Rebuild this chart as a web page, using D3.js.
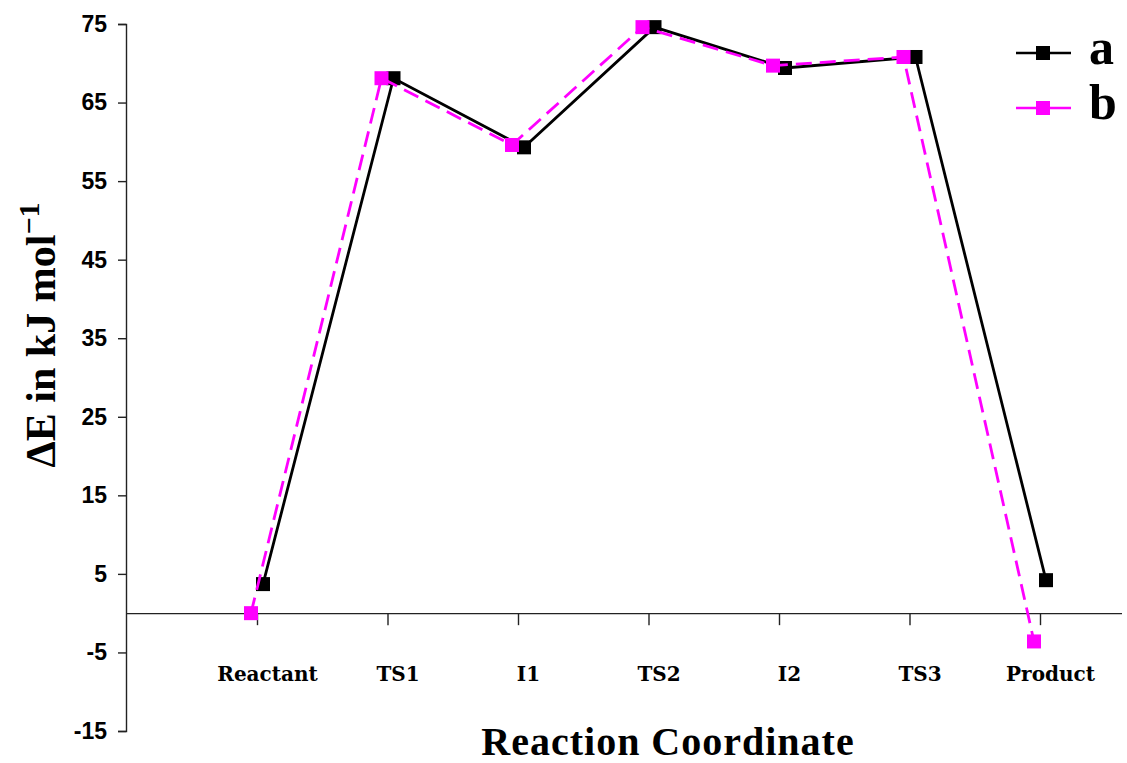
<!DOCTYPE html>
<html>
<head>
<meta charset="utf-8">
<script src="https://cdn.jsdelivr.net/npm/d3@7"></script>
<style>
    body { margin: 0; background: #fff; }
</style>
</head>
<body>
<script>
//chart data
var categories = ["Reactant", "TS1", "I1", "TS2", "I2", "TS3", "Product"];
var seriesA = [3.7, 68.1, 59.3, 74.6, 69.4, 70.8, 4.2];
var seriesB = [0.0, 68.1, 59.6, 74.6, 69.7, 70.8, -3.6];
var seriesNames = ["a", "b"];
var yTicks = [-15, -5, 5, 15, 25, 35, 45, 55, 65, 75];

window.onload = drawChart();

function drawChart(){
    var width = 1127,
        height = 763;

    var svg = d3.select("body")
        .append("svg")
        .attr("width", width)
        .attr("height", height);

    //scales
    var x = d3.scalePoint()
        .domain(categories)
        .range([257, 1040]);

    var y = d3.scaleLinear()
        .domain([-15, 75])
        .range([731, 24]);

    //y axis
    var yAxis = d3.axisLeft(y)
        .tickValues(yTicks)
        .tickSize(8)
        .tickPadding(11)
        .tickFormat(function(d){ return String(d); });

    var gy = svg.append("g")
        .attr("transform", "translate(126,0)")
        .call(yAxis);
    gy.select(".domain").attr("stroke", "#222").attr("stroke-width", 1.4);
    gy.selectAll(".tick line").attr("stroke", "#222").attr("stroke-width", 1.4);
    gy.selectAll(".tick text")
        .style("font-family", "Liberation Sans, Arial, sans-serif")
        .style("font-weight", "bold")
        .style("font-size", "23px")
        .attr("fill", "#000");

    //category axis along zero
    var xAxis = d3.axisBottom(x)
        .tickSize(12)
        .tickSizeOuter(0)
        .tickPadding(42);

    var gx = svg.append("g")
        .attr("transform", "translate(0," + y(0) + ")")
        .call(xAxis);
    gx.select(".domain")
        .attr("d", "M126,0.5H1122")
        .attr("stroke", "#222").attr("stroke-width", 1.4);
    gx.selectAll(".tick line").attr("stroke", "#222").attr("stroke-width", 1.4);
    gx.selectAll(".tick text")
        .attr("dx", 10)
        .style("font-family", "DejaVu Serif, serif")
        .style("font-weight", "bold")
        .style("font-size", "20px")
        .attr("fill", "#000");

    //series lines
    var series = [
        {name: seriesNames[0], values: seriesA, color: "#000000", dash: null, dx: 6},
        {name: seriesNames[1], values: seriesB, color: "#ff00ff", dash: "16,8", dx: -6}
    ];

    series.forEach(function(s){
        var line = d3.line()
            .x(function(d, i){ return x(categories[i]) + s.dx; })
            .y(function(d){ return y(d); });

        svg.append("path")
            .datum(s.values)
            .attr("fill", "none")
            .attr("stroke", s.color)
            .attr("stroke-width", 2.8)
            .attr("stroke-dasharray", s.dash)
            .attr("d", line);

        svg.selectAll(".marker-" + s.name)
            .data(s.values)
            .enter()
            .append("rect")
            .attr("class", "marker-" + s.name)
            .attr("x", function(d, i){ return x(categories[i]) + s.dx - 7; })
            .attr("y", function(d){ return y(d) - 7; })
            .attr("width", 14)
            .attr("height", 14)
            .attr("fill", s.color);
    });

    //legend
    var legend = svg.append("g");
    series.forEach(function(s, i){
        var ly = 53 + i * 55;
        legend.append("line")
            .attr("x1", 1016).attr("x2", 1071)
            .attr("y1", ly).attr("y2", ly)
            .attr("stroke", s.color)
            .attr("stroke-width", 2.6)
            .attr("stroke-dasharray", s.dash ? "24,7" : null);
        legend.append("rect")
            .attr("x", 1036).attr("y", ly - 7)
            .attr("width", 14).attr("height", 14)
            .attr("fill", s.color);
        legend.append("text")
            .attr("x", 1089)
            .attr("y", ly + 11)
            .attr("font-family", "Liberation Serif, serif")
            .attr("font-weight", "bold")
            .attr("font-size", 50)
            .text(s.name);
    });

    //axis titles
    svg.append("text")
        .attr("x", 668)
        .attr("y", 755)
        .attr("text-anchor", "middle")
        .attr("font-family", "Liberation Serif, serif")
        .attr("font-weight", "bold")
        .attr("font-size", 40)
        .attr("letter-spacing", 1)
        .text("Reaction Coordinate");

    var yTitle = svg.append("text")
        .attr("transform", "translate(55,335) rotate(-90)")
        .attr("text-anchor", "middle")
        .attr("font-family", "Liberation Serif, serif")
        .attr("font-weight", "bold")
        .attr("font-size", 42);
    yTitle.append("tspan").text("\u0394E in kJ mol");
    yTitle.append("tspan")
        .attr("dy", -16)
        .attr("font-size", 30)
        .text("\u22121");
};
</script>
</body>
</html>
